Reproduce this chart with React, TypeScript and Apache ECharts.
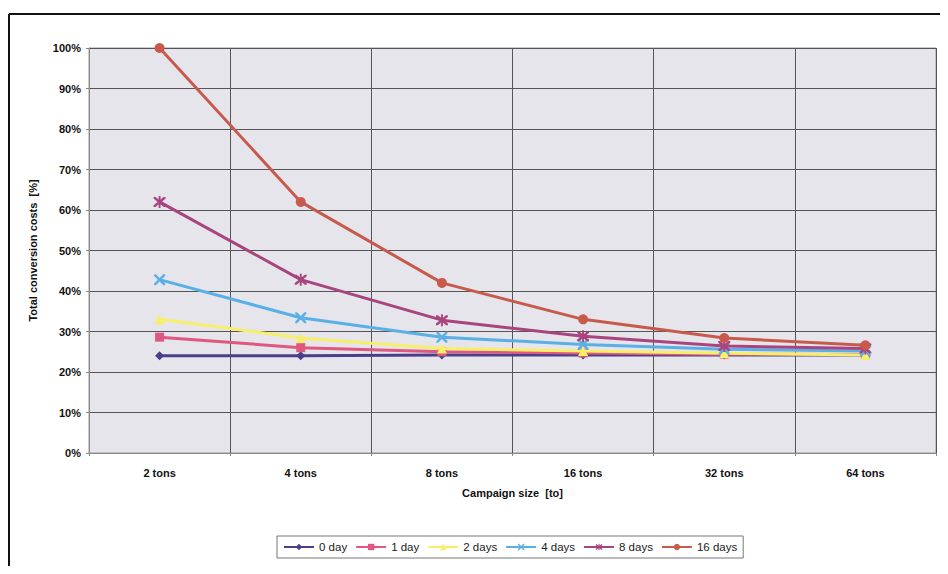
import React, { useEffect, useRef } from "react";
import * as echarts from "echarts";

const categories = ["2 tons", "4 tons", "8 tons", "16 tons", "32 tons", "64 tons"];
const seriesNames = ["0 day", "1 day", "2 days", "4 days", "8 days", "16 days"];
const day0 = [24, 24, 24.2, 24.2, 24.2, 24.2];
const day1 = [28.6, 26, 25, 24.7, 24.4, 24.3];
const day2 = [33, 28.4, 25.8, 25.2, 24.6, 24.2];
const day4 = [42.8, 33.4, 28.6, 26.8, 25.6, 25.2];
const day8 = [62, 42.8, 32.8, 28.8, 26.4, 25.8];
const day16 = [100, 62, 42, 33, 28.4, 26.6];
const yTicks = [0, 10, 20, 30, 40, 50, 60, 70, 80, 90, 100];

const colors = ["#4b3f8c", "#e0577f", "#f7ee6a", "#5ab0e6", "#a8457e", "#c85a4c"];
const X_PATH =
  "path://M0,0 H1.6 L5,3.4 L8.4,0 H10 V1.6 L6.6,5 L10,8.4 V10 H8.4 L5,6.6 L1.6,10 H0 V8.4 L3.4,5 L0,1.6 Z";
const STAR_PATH =
  "path://M0,0 H1.6 L5,3.4 L8.4,0 H10 V1.6 L6.6,5 L10,8.4 V10 H8.4 L5,6.6 L1.6,10 H0 V8.4 L3.4,5 L0,1.6 Z M4.2,-1 H5.8 V11 H4.2 Z";
const symbols = ["diamond", "rect", "triangle", X_PATH, STAR_PATH, "circle"];
const symbolSizes = [9, 9, 10, 11, 12, 10];
const dataSets = [day0, day1, day2, day4, day8, day16];

export default function App() {
  const ref = useRef<HTMLDivElement>(null);
  useEffect(() => {
    if (!ref.current) return;
    const chart = echarts.init(ref.current, null, { renderer: "svg" });
    const font = "Liberation Sans, Arial, sans-serif";
    chart.setOption({
      animation: false,
      backgroundColor: "#ffffff",
      textStyle: { fontFamily: font },
      graphic: [
        { type: "line", shape: { x1: 1, y1: 6, x2: 1, y2: 574 }, style: { stroke: "#111", lineWidth: 2 } },
        { type: "line", shape: { x1: 1, y1: 6, x2: 940, y2: 6 }, style: { stroke: "#111", lineWidth: 2 } },
      ],
      grid: {
        left: 81,
        right: 4,
        top: 40,
        bottom: 113,
        show: true,
        backgroundColor: "#e5e5eb",
        borderColor: "#9a9a9a",
        borderWidth: 1,
      },
      legend: {
        data: seriesNames,
        bottom: 8,
        left: 269,
        itemWidth: 30,
        itemHeight: 8,
        itemGap: 8,
        padding: [5, 6],
        borderColor: "#777",
        borderWidth: 1,
        backgroundColor: "#fff",
        borderRadius: 0,
        textStyle: { fontSize: 11.5, color: "#222", fontFamily: font },
      },
      xAxis: {
        type: "category",
        data: categories,
        boundaryGap: true,
        name: "Campaign size  [to]",
        nameLocation: "middle",
        nameGap: 34,
        nameTextStyle: { fontSize: 11, fontWeight: "bold", color: "#111" },
        axisLine: { show: true, lineStyle: { color: "#888" } },
        axisTick: { show: true, length: 3, lineStyle: { color: "#888" } },
        axisLabel: { fontSize: 11, fontWeight: "bold", color: "#111", margin: 14 },
        splitLine: { show: true, lineStyle: { color: "#555", width: 1 } },
      },
      yAxis: {
        type: "value",
        min: 0,
        max: 100,
        interval: 10,
        name: "Total conversion costs  [%]",
        nameLocation: "middle",
        nameGap: 51,
        nameTextStyle: { fontSize: 11, fontWeight: "bold", color: "#111" },
        axisLine: { show: true, lineStyle: { color: "#888" } },
        axisTick: { show: true, length: 3, lineStyle: { color: "#888" } },
        axisLabel: {
          fontSize: 11,
          fontWeight: "bold",
          color: "#111",
          margin: 8,
          formatter: (v: number) => (yTicks.includes(v) ? v + "%" : ""),
        },
        splitLine: { show: true, lineStyle: { color: "#555", width: 1 } },
      },
      series: dataSets.map((d, i) => ({
        name: seriesNames[i],
        type: "line",
        data: d,
        symbol: symbols[i],
        symbolSize: symbolSizes[i],
        showAllSymbol: true,
        z: 2 + i,
        lineStyle: { color: colors[i], width: 3 },
        itemStyle: { color: colors[i], borderWidth: 0 },
      })),
    });
    return () => chart.dispose();
  }, []);
  return <div ref={ref} style={{ width: 932, height: 558 }} />;
}
